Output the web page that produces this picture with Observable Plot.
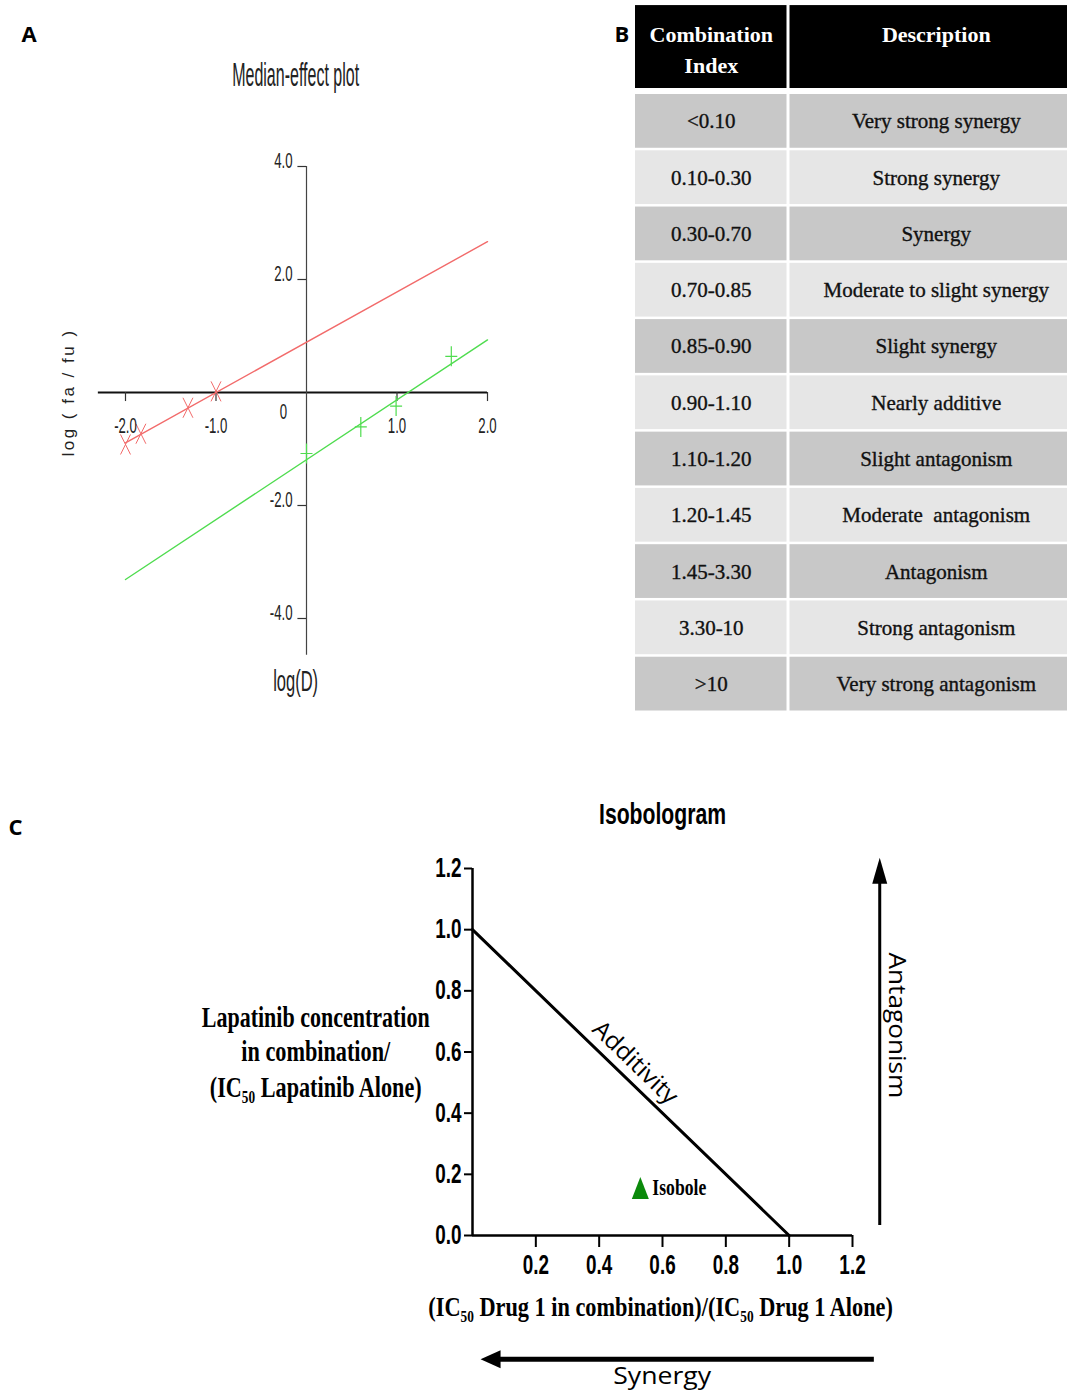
<!DOCTYPE html>
<html><head><meta charset="utf-8">
<script src="https://cdn.jsdelivr.net/npm/d3@7"></script>
<script src="https://cdn.jsdelivr.net/npm/@observablehq/plot@0.6"></script>
<style>
html,body{margin:0;padding:0;background:#fff;}
#root{position:relative;width:1067px;height:1393px;overflow:hidden;background:#fff;}
#root svg{position:absolute;overflow:visible;}
</style></head><body><div id="root"></div>
<script>
// ---------- Panel A: median-effect plot ----------
const redX = [-2.0, -1.83, -1.31, -1.0];
const redY = [-0.92, -0.73, -0.27, 0.02];
const greenX = [0.0, 0.6, 0.99, 1.6];
const greenY = [-1.08, -0.61, -0.24, 0.64];
const redLineX = [-2, 2];
const redLineY = [-0.89, 2.67];
const greenLineX = [-2, 2];
const greenLineY = [-3.31, 0.93];
const aXTicks = [-2, -1, 1, 2];
const aXTickLabels = ["-2.0", "-1.0", "1.0", "2.0"];
const aYTicks = [4, 2, -2, -4];
const aYTickLabels = ["4.0", "2.0", "-2.0", "-4.0"];

// ---------- Panel B: combination index table ----------
const tableHeaders = ["Combination\nIndex", "Description"];
const ciRanges = ["<0.10", "0.10-0.30", "0.30-0.70", "0.70-0.85", "0.85-0.90", "0.90-1.10",
  "1.10-1.20", "1.20-1.45", "1.45-3.30", "3.30-10", ">10"];
const ciDescriptions = ["Very strong synergy", "Strong synergy", "Synergy", "Moderate to slight synergy",
  "Slight synergy", "Nearly additive", "Slight antagonism", "Moderate  antagonism", "Antagonism",
  "Strong antagonism", "Very strong antagonism"];

// ---------- Panel C: isobologram ----------
const additivityX = [0, 1];
const additivityY = [1, 0];
const isoboleX = [0.53];
const isoboleY = [0.155];
const cXTicks = [0.2, 0.4, 0.6, 0.8, 1.0, 1.2];
const cYTicks = [0, 0.2, 0.4, 0.6, 0.8, 1.0, 1.2];
const cYLabelLines = ["Lapatinib concentration", "in combination/", "(IC₅₀ Lapatinib Alone)"];
const cXLabel = "(IC₅₀ Drug 1 in combination)/(IC₅₀ Drug 1 Alone)";

const zip = (xs, ys) => xs.map((x, i) => ({x, y: ys[i]}));
const root = document.getElementById("root");
function place(svg, left, top) { svg.style.left = left + "px"; svg.style.top = top + "px"; root.appendChild(svg); }
function textsByContent(svg, strs) {
  const set = new Set(strs);
  return Array.from(svg.querySelectorAll("text")).filter(t => set.has(t.textContent));
}
function squeeze(svg, strs, k) {
  textsByContent(svg, strs).forEach(t => t.setAttribute("transform", (t.getAttribute("transform") || "") + ` scale(${k},1)`));
}
function fitWidth(svg, str, w) {
  textsByContent(svg, [str]).forEach(t => {
    const len = t.getComputedTextLength();
    if (len > 0) t.setAttribute("transform", (t.getAttribute("transform") || "") + ` scale(${w / len},1)`);
  });
}

// custom symbols
const tallTimes = {draw(c) { c.moveTo(-5, -10); c.lineTo(5, 10); c.moveTo(5, -10); c.lineTo(-5, 10); }};
const tallPlus = {draw(c) { c.moveTo(0, -10); c.lineTo(0, 10); c.moveTo(-6, 0); c.lineTo(6, 0); }};
const isoTri = {draw(c) { c.moveTo(0, -11); c.lineTo(8.5, 11); c.lineTo(-8.5, 11); c.closePath(); }};
const upHead = {draw(c) { c.moveTo(0, -13); c.lineTo(7.5, 13); c.lineTo(-7.5, 13); c.closePath(); }};
const leftHead = {draw(c) { c.moveTo(-10, 0); c.lineTo(10, -9); c.lineTo(10, 9); c.closePath(); }};

const sans = "'Liberation Sans', Arial, sans-serif";
const serif = "'Liberation Serif', 'Times New Roman', serif";
const calib = "'Open Sans', 'Noto Sans', sans-serif";
const RED = "#f26b6b", GREEN = "#4fdc4f";

// ---------- Panel A ----------
const plotA = Plot.plot({
  width: 600, height: 720, margin: 0,
  x: {domain: [-2, 2], range: [125, 487], axis: null},
  y: {domain: [-4, 4], range: [618, 166], axis: null},
  style: {background: "transparent", overflow: "visible", fontFamily: sans, color: "#222"},
  marks: [
    Plot.ruleY([0], {x1: -2.3, x2: 2, stroke: "#111", strokeWidth: 2}),
    Plot.ruleX([0], {y1: -4.65, y2: 4, stroke: "#444", strokeWidth: 1.2}),
    Plot.ruleX(aXTicks, {x: d => d, y1: 0, y2: -0.16, stroke: "#333", strokeWidth: 1.2}),
    Plot.ruleY(aYTicks, {y: d => d, x1: -0.095, x2: 0, stroke: "#333", strokeWidth: 1.2}),
    Plot.line(zip(redLineX, redLineY), {x: "x", y: "y", stroke: RED, strokeWidth: 1.4}),
    Plot.line(zip(greenLineX, greenLineY), {x: "x", y: "y", stroke: GREEN, strokeWidth: 1.4}),
    Plot.dot(zip(redX, redY), {x: "x", y: "y", symbol: tallTimes, stroke: RED, fill: "none", strokeWidth: 1}),
    Plot.dot(zip(greenX, greenY), {x: "x", y: "y", symbol: tallPlus, stroke: GREEN, fill: "none", strokeWidth: 1.2}),
    Plot.text(aXTickLabels, {x: (d, i) => aXTicks[i], y: 0, dy: 33, text: d => d, fontSize: 22}),
    Plot.text(["0"], {x: 0, y: 0, dx: -23, dy: 19, text: d => d, fontSize: 22}),
    Plot.text(aYTickLabels, {x: 0, y: (d, i) => aYTicks[i], dx: -14, dy: -6, textAnchor: "end", text: d => d, fontSize: 22}),
    Plot.text(["Median-effect plot"], {x: -0.12, y: 5.61, text: d => d, fontSize: 33}),
    Plot.text(["log(D)"], {x: -0.12, y: -5.12, text: d => d, fontSize: 30}),
    Plot.text(["log ( fa / fu )"], {x: -2.63, y: 0, rotate: -90, text: d => d, fontSize: 17}),
    Plot.text(["A"], {frameAnchor: "top-left", dx: 21, dy: 26, text: d => d, fontSize: 22, fontWeight: "bold", fontFamily: calib, fill: "black"})
  ]
});
place(plotA, 0, 0);
squeeze(plotA, [...aXTickLabels, ...aYTickLabels, "0"], 0.6);
fitWidth(plotA, "Median-effect plot", 127);
fitWidth(plotA, "log(D)", 45);
textsByContent(plotA, ["log ( fa / fu )"]).forEach(t => t.setAttribute("letter-spacing", "2.5"));

// ---------- Panel B (one Plot per table column) ----------
function tableColumn(header, labels, width, xRange, extra = []) {
  const rows = labels.map((label, i) => ({row: i + 1, label}));
  return Plot.plot({
    width, height: 715, margin: 0,
    x: {domain: [0, 1], range: xRange, axis: null},
    y: {domain: [0, labels.length], range: [93, 712], axis: null},
    style: {background: "transparent", overflow: "visible", fontFamily: serif},
    marks: [
      Plot.rect([header], {x1: 0, x2: 1, y1: -1.5625, y2: 0, fill: "black", insetBottom: 5}),
      Plot.rect(rows, {x1: 0, x2: 1, y1: d => d.row - 1, y2: "row", filter: d => d.row % 2 === 1, fill: "#c8c8c8", insetTop: 1, insetBottom: 1.5}),
      Plot.rect(rows, {x1: 0, x2: 1, y1: d => d.row - 1, y2: "row", filter: d => d.row % 2 === 0, fill: "#e6e6e6", insetTop: 1, insetBottom: 1.5}),
      Plot.text([header], {x: 0.5, y: -1.5625, dy: 14, lineAnchor: "top", lineHeight: 1.41, text: d => d, fill: "white", fontWeight: "bold", fontSize: 22}),
      Plot.text(rows, {x: 0.5, y: d => d.row - 0.5, text: "label", fill: "#111", stroke: "#111", strokeWidth: 0.35, fontSize: 21}),
      ...extra
    ]
  });
}
const plotB1 = tableColumn(tableHeaders[0], ciRanges, 153, [0, 151.5], [
  Plot.text(["B"], {frameAnchor: "top-left", dx: -21, dy: 26, text: d => d, fontSize: 22, fontWeight: "bold", fontFamily: calib, fill: "black"})
]);
place(plotB1, 635, 0);
const plotB2 = tableColumn(tableHeaders[1], ciDescriptions, 294, [1.5, 294]);
place(plotB2, 788, 0);

// ---------- Panel C ----------
const plotC = Plot.plot({
  width: 1067, height: 613,
  marginLeft: 472, marginRight: 215, marginTop: 88, marginBottom: 158,
  x: {domain: [0, 1.2]},
  y: {domain: [0, 1.2]},
  style: {background: "transparent", overflow: "visible", fontFamily: sans, color: "black"},
  marks: [
    Plot.axisX(cXTicks, {tickSize: 12, tickPadding: 7, tickFormat: d => d.toFixed(1), fontSize: 27, fontWeight: "bold", strokeWidth: 2, label: null}),
    Plot.axisY(cYTicks, {tickSize: 8, tickPadding: 3, tickFormat: d => d.toFixed(1), fontSize: 27, fontWeight: "bold", strokeWidth: 2, label: null}),
    Plot.ruleX([0], {y1: 0, y2: 1.2, strokeWidth: 2.5}),
    Plot.ruleY([0], {x1: 0, x2: 1.2, strokeWidth: 2.5}),
    Plot.line(zip(additivityX, additivityY), {x: "x", y: "y", strokeWidth: 3}),
    Plot.text(["Additivity"], {x: 0.476, y: 0.524, dx: 12, dy: -12.5, rotate: 44, text: d => d, fontSize: 24, fontFamily: calib}),
    Plot.dot(zip(isoboleX, isoboleY), {x: "x", y: "y", symbol: isoTri, fill: "#0b8a0b", stroke: null}),
    Plot.text(["Isobole"], {x: isoboleX[0], y: isoboleY[0], dx: 12, textAnchor: "start", text: d => d, fontSize: 23, fontFamily: serif, fontWeight: "bold"}),
    // antagonism arrow
    Plot.ruleX([1.286], {x: d => d, y1: 0.033, y2: 1.161, strokeWidth: 3}),
    Plot.dot([1.286], {x: d => d, y: 1.193, symbol: upHead, fill: "black", stroke: null}),
    Plot.text(["Antagonism"], {x: 1.338, y: 0.687, rotate: 90, text: d => d, fontSize: 24, fontFamily: calib}),
    // synergy arrow
    Plot.ruleY([-0.405], {y: d => d, x1: 0.06, x2: 1.269, strokeWidth: 5}),
    Plot.dot([-0.405], {x: 0.057, y: d => d, symbol: leftHead, fill: "black", stroke: null}),
    Plot.text(["Synergy"], {x: 0.599, y: -0.463, text: d => d, fontSize: 23, fontFamily: calib}),
    // titles and labels
    Plot.text(["Isobologram"], {x: 0.6, y: 1.377, text: d => d, fontSize: 30, fontWeight: "bold"}),
    Plot.text([cXLabel], {x: 0.594, y: -0.235, text: d => d, fontSize: 28, fontWeight: "bold", fontFamily: serif}),
    Plot.text([cYLabelLines[0]], {x: -0.495, y: 0.713, text: d => d, fontSize: 29, fontWeight: "bold", fontFamily: serif}),
    Plot.text([cYLabelLines[1]], {x: -0.495, y: 0.602, text: d => d, fontSize: 29, fontWeight: "bold", fontFamily: serif}),
    Plot.text([cYLabelLines[2]], {x: -0.495, y: 0.484, text: d => d, fontSize: 29, fontWeight: "bold", fontFamily: serif}),
    Plot.text(["C"], {x: -1.443, y: 1.331, text: d => d, fontSize: 22, fontWeight: "bold", fontFamily: calib})
  ]
});
place(plotC, 0, 780);
squeeze(plotC, [...cXTicks, ...cYTicks].map(d => d.toFixed(1)), 0.7);
fitWidth(plotC, "Additivity", 108);
fitWidth(plotC, "Isobole", 54);
fitWidth(plotC, "Antagonism", 146);
fitWidth(plotC, "Synergy", 98);
fitWidth(plotC, "Isobologram", 127);
fitWidth(plotC, cXLabel, 465);
fitWidth(plotC, cYLabelLines[0], 228);
fitWidth(plotC, cYLabelLines[1], 149);
fitWidth(plotC, cYLabelLines[2], 212);
</script></body></html>
